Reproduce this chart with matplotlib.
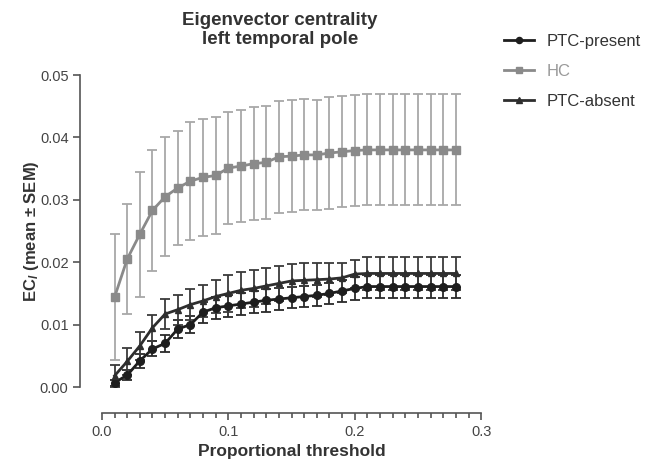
import numpy as np
import matplotlib
matplotlib.use("Agg")
from matplotlib import pyplot as plt
from matplotlib.ticker import MultipleLocator, FormatStrFormatter

plt.rcParams["font.family"] = ["Liberation Sans", "DejaVu Sans"]
plt.rcParams["mathtext.fontset"] = "custom"
plt.rcParams["mathtext.it"] = "Liberation Sans:italic:bold"
plt.rcParams["mathtext.rm"] = "Liberation Sans:bold"

# proportional thresholds 0.01 .. 0.28
thresholds = [0.01, 0.02, 0.03, 0.04, 0.05, 0.06, 0.07, 0.08, 0.09, 0.10,
              0.11, 0.12, 0.13, 0.14, 0.15, 0.16, 0.17, 0.18, 0.19, 0.20,
              0.21, 0.22, 0.23, 0.24, 0.25, 0.26, 0.27, 0.28]

ptc_present_mean = [0.0007, 0.0019, 0.0042, 0.0061, 0.0070, 0.0093, 0.0100, 0.0120,
                    0.0127, 0.0130, 0.0133, 0.0136, 0.0139, 0.0141, 0.0143, 0.0145,
                    0.0147, 0.0150, 0.0154, 0.0158, 0.0161, 0.0161, 0.0161, 0.0161,
                    0.0161, 0.0161, 0.0161, 0.0161]
ptc_present_sem = [0.0005, 0.0008, 0.0011, 0.0012, 0.0014, 0.0015, 0.0014, 0.0017,
                   0.0018, 0.0018, 0.0018, 0.0018, 0.0018, 0.0017, 0.0017, 0.0017,
                   0.0017, 0.0017, 0.0018, 0.0018, 0.0018, 0.0018, 0.0018, 0.0018,
                   0.0018, 0.0018, 0.0018, 0.0018]

hc_mean = [0.0144, 0.0205, 0.0245, 0.0283, 0.0305, 0.0319, 0.0330, 0.0336,
           0.0339, 0.0351, 0.0354, 0.0358, 0.0360, 0.0369, 0.0370, 0.0372,
           0.0372, 0.0375, 0.0377, 0.0379, 0.0380, 0.0380, 0.0380, 0.0380,
           0.0380, 0.0380, 0.0380, 0.0380]
hc_sem = [0.0101, 0.0088, 0.0100, 0.0097, 0.0095, 0.0092, 0.0094, 0.0094,
          0.0093, 0.0090, 0.0090, 0.0090, 0.0090, 0.0090, 0.0090, 0.0089,
          0.0088, 0.0089, 0.0089, 0.0089, 0.0089, 0.0089, 0.0089, 0.0089,
          0.0089, 0.0089, 0.0089, 0.0089]

ptc_absent_mean = [0.0018, 0.0041, 0.0066, 0.0095, 0.0117, 0.0124, 0.0132, 0.0138,
                   0.0145, 0.0150, 0.0155, 0.0158, 0.0162, 0.0166, 0.0170, 0.0171,
                   0.0172, 0.0173, 0.0175, 0.0181, 0.0182, 0.0182, 0.0182, 0.0182,
                   0.0182, 0.0182, 0.0182, 0.0182]
ptc_absent_sem = [0.0018, 0.0022, 0.0022, 0.0021, 0.0024, 0.0024, 0.0025, 0.0026,
                  0.0027, 0.0029, 0.0029, 0.0029, 0.0029, 0.0028, 0.0027, 0.0027,
                  0.0027, 0.0026, 0.0024, 0.0022, 0.0027, 0.0027, 0.0027, 0.0027,
                  0.0027, 0.0027, 0.0027, 0.0027]

fig = plt.figure(figsize=(6.45, 4.66), dpi=100)
ax = fig.add_axes([0.158, 0.1695, 0.588, 0.6695])

series = [
    ("PTC-present", ptc_present_mean, ptc_present_sem, "o", "#1e1e1e", "#2a2a2a", 5.5, "#333333"),
    ("HC", hc_mean, hc_sem, "s", "#8a8a8a", "#a8a8a8", 5.5, "#999999"),
    ("PTC-absent", ptc_absent_mean, ptc_absent_sem, "^", "#2e2e2e", "#3a3a3a", 5, "#333333"),
]
handles, labels = [], []
for label, m, s, mk, col, ecol, ms, tcol in series:
    eb = ax.errorbar(thresholds, m, yerr=s, fmt="-", marker=mk, color=col, ecolor=ecol,
                     lw=2, ms=ms, elinewidth=1.3, capsize=3.5, capthick=1.3,
                     clip_on=False)
    handles.append(eb[0])
    labels.append(label)

ax.set_xlim(0, 0.3)
ax.set_ylim(0, 0.05)
ax.xaxis.set_major_locator(MultipleLocator(0.1))
ax.xaxis.set_minor_locator(MultipleLocator(0.01))
ax.xaxis.set_major_formatter(FormatStrFormatter("%.1f"))
ax.yaxis.set_major_locator(MultipleLocator(0.01))
ax.yaxis.set_major_formatter(FormatStrFormatter("%.2f"))

for side in ["top", "right"]:
    ax.spines[side].set_visible(False)
ax.spines["left"].set_position(("outward", 15.5))
ax.spines["bottom"].set_position(("outward", 18.5))
for side in ["left", "bottom"]:
    ax.spines[side].set_color("#555555")
    ax.spines[side].set_linewidth(1.2)
ax.tick_params(which="major", length=5, width=1.2, color="#555555",
               labelsize=10.5, labelcolor="#444444")
ax.tick_params(axis="x", which="minor", bottom=True, length=3.5, width=1.2,
               color="#555555")

ax.set_xlabel("Proportional threshold", fontsize=12.5, fontweight="bold",
              color="#333333", labelpad=4)
ax.set_ylabel(r"EC$_{\mathit{l}}$ (mean ± SEM)", fontsize=12, fontweight="bold",
              color="#333333", labelpad=-1)
ax.set_title("Eigenvector centrality\nleft temporal pole", fontsize=13.5,
             fontweight="bold", color="#333333", pad=22, x=0.47)

leg = ax.legend(handles, labels, loc="upper left", bbox_to_anchor=(1.02, 1.18),
                frameon=False, fontsize=12, handlelength=1.8, labelspacing=0.9,
                numpoints=1, markerscale=0.8)
for t, ser in zip(leg.get_texts(), series):
    t.set_color(ser[7])

fig.savefig("out.png", dpi=100)
